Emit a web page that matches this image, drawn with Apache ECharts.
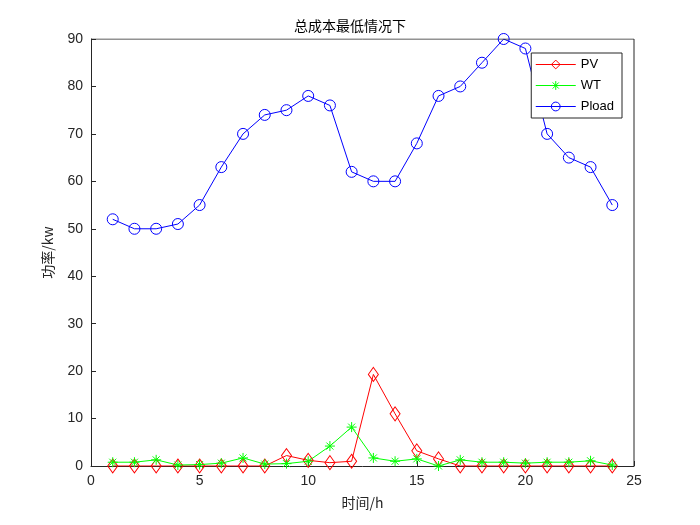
<!DOCTYPE html>
<html><head><meta charset="utf-8">
<script src="https://cdn.jsdelivr.net/npm/echarts@6/dist/echarts.min.js"></script>
<style>html,body{margin:0;background:#fff}#c{width:700px;height:525px}</style>
</head><body><div id="c"></div>
<script>
const hours = [1,2,3,4,5,6,7,8,9,10,11,12,13,14,15,16,17,18,19,20,21,22,23,24];
const pv = [0,0,0,0,0,0,0,0,2.2,1.2,0.7,1,19.3,11,3.2,1.5,0,0,0,0,0,0,0,0];
const wt = [0.8,0.8,1.3,0.2,0.3,0.6,1.7,0.4,0.5,1,4.2,8.2,1.7,1,1.5,0,1.3,0.8,0.8,0.6,0.8,0.8,1.1,0.2];
const pload = [52,50,50,51,55,63,70,74,75,78,76,62,60,60,68,78,80,85,90,88,70,65,63,55];

const font = 'Liberation Sans';
const star = 'path://M0,-1L0,1M-1,0L1,0M-0.7,-0.7L0.7,0.7M-0.7,0.7L0.7,-0.7';
const pair = a => a.map((v, i) => [hours[i], v]);
const line = (name, data, color, symbol, size) => ({
  name, type: 'line', data: pair(data), symbol, symbolSize: size,
  lineStyle: { color, width: 1 }, itemStyle: { color: 'transparent', borderColor: color, borderWidth: 1 },
  emphasis: { disabled: true }
});
const axisCommon = {
  axisLine: { show: true, onZero: false, lineStyle: { color: '#262626' } },
  axisTick: { inside: true, length: 5, lineStyle: { color: '#262626' } },
  axisLabel: { color: '#262626', fontSize: 14, fontFamily: font },
  splitLine: { show: false }
};
const chart = echarts.init(document.getElementById('c'));
chart.setOption({
  animation: false,
  title: { text: '总成本最低情况下', left: 'center', top: 14,
    textStyle: { fontSize: 14, fontWeight: 'normal', color: '#000', fontFamily: 'Noto Sans CJK SC' } },
  grid: { left: 91, right: 66, top: 39, bottom: 59 },
  legend: {
    orient: 'vertical', right: 78, top: 53, itemGap: 8, itemWidth: 40, itemHeight: 11,
    backgroundColor: '#fff', borderColor: '#262626', borderWidth: 1, padding: [5, 8, 5, 4],
    itemStyle: { borderWidth: 1 }, lineStyle: { width: 1 },
    textStyle: { fontSize: 13, fontFamily: font, color: '#000' },
    data: ['PV', 'WT', 'Pload']
  },
  xAxis: Object.assign({ type: 'value', min: 0, max: 25, interval: 5,
    name: '时间/h', nameLocation: 'middle', nameGap: 30,
    nameTextStyle: { fontSize: 14, color: '#262626', fontFamily: 'Noto Sans CJK SC' } }, axisCommon),
  yAxis: Object.assign({ type: 'value', min: 0, max: 90, interval: 10,
    name: '功率/kw', nameLocation: 'middle', nameGap: 36,
    nameTextStyle: { fontSize: 14, color: '#262626', fontFamily: 'Noto Sans CJK SC' } }, axisCommon),
  series: [
    line('PV', pv, '#ff0000', 'diamond', [10, 14]),
    line('WT', wt, '#00ff00', star, 10),
    line('Pload', pload, '#0000ff', 'circle', 11),
    { type: 'line', data: [[0, 90], [25, 90]], symbol: 'none', silent: true,
      lineStyle: { color: '#262626', width: 1 } },
    { type: 'line', data: [[25, 0], [25, 90]], symbol: 'none', silent: true,
      lineStyle: { color: '#262626', width: 1 } }
  ]
});
</script></body></html>
